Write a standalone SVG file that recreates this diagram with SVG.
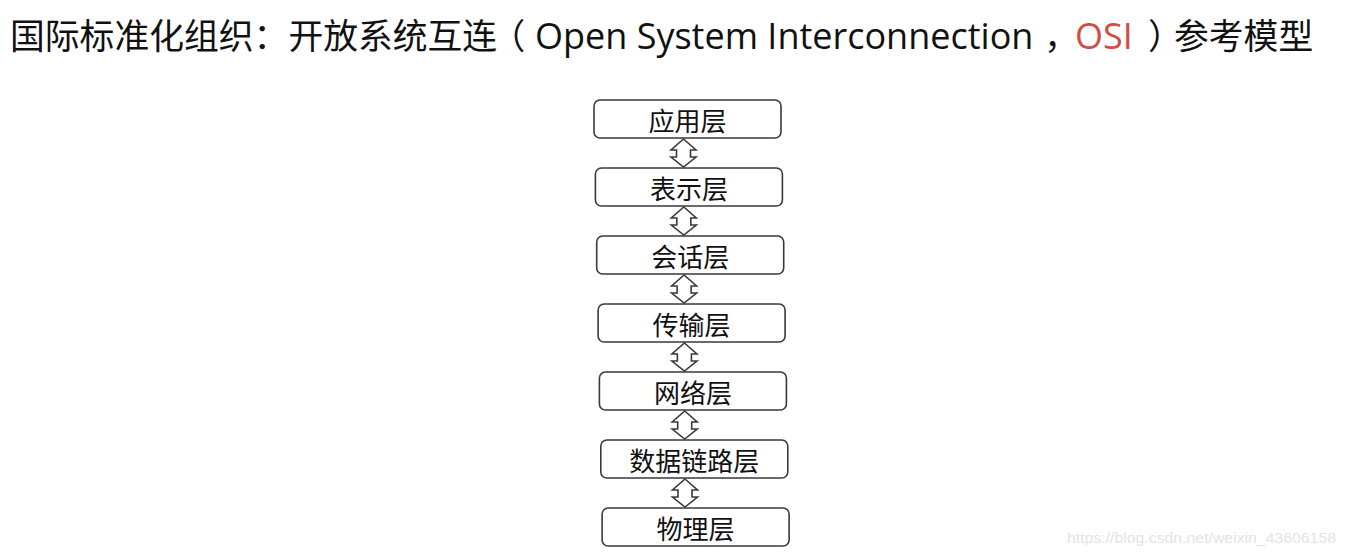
<svg xmlns="http://www.w3.org/2000/svg" width="1346" height="556" viewBox="0 0 1346 556">
<style>
.title{font-family:"Noto Sans CJK SC","Noto Sans",sans-serif;font-size:34.8px;fill:#111;}
.latin{font-family:"Open Sans","Noto Sans",sans-serif;font-size:36px;}
.p{font-feature-settings:"halt";}
.osi{fill:#cf4f45;}
.box{fill:#fff;stroke:#3a3a3a;stroke-width:1.6;}
.lbl{font-family:"Noto Sans CJK SC","Noto Sans",sans-serif;font-size:26px;fill:#111;text-anchor:middle;}
.arr{fill:#fff;stroke:#3a3a3a;stroke-width:1.6;stroke-linejoin:miter;}
.wm{font-family:"Liberation Sans",Arial,sans-serif;font-size:15px;fill:#e4e4e4;}
</style>
<rect width="1346" height="556" fill="#fff"/>
<g id="title">
<text class="title" y="49"><tspan x="10">国际标准化组织：开放系统互连</tspan><tspan class="p" x="508">（</tspan><tspan class="latin" x="535">Open System Interconnection</tspan><tspan class="p" x="1044">，</tspan><tspan class="latin osi" x="1075">OSI</tspan><tspan class="p" x="1148">）</tspan><tspan x="1174">参考模型</tspan></text>
</g>
<g id="connectors">
<path class="arr" d="M683.5,139 L696,150 L690.5,150 L690.5,157 L696,157 L683.5,167 L671,157 L676.5,157 L676.5,150 L671,150 Z"/>
<path class="arr" d="M683.8,207 L696.3,218 L690.8,218 L690.8,225 L696.3,225 L683.8,235 L671.3,225 L676.8,225 L676.8,218 L671.3,218 Z"/>
<path class="arr" d="M684.1,275 L696.6,286 L691.1,286 L691.1,293 L696.6,293 L684.1,303 L671.6,293 L677.1,293 L677.1,286 L671.6,286 Z"/>
<path class="arr" d="M684.4,343 L696.9,354 L691.4,354 L691.4,361 L696.9,361 L684.4,371 L671.9,361 L677.4,361 L677.4,354 L671.9,354 Z"/>
<path class="arr" d="M684.7,411 L697.2,422 L691.7,422 L691.7,429 L697.2,429 L684.7,439 L672.2,429 L677.7,429 L677.7,422 L672.2,422 Z"/>
<path class="arr" d="M685,479 L697.5,490 L692,490 L692,497 L697.5,497 L685,507 L672.5,497 L678,497 L678,490 L672.5,490 Z"/>
</g>
<g id="n1"><rect class="box" x="594" y="100" width="187" height="38" rx="6"/><text class="lbl" x="687.5" y="131">应用层</text></g>
<g id="n2"><rect class="box" x="595.4" y="168" width="187" height="38" rx="6"/><text class="lbl" x="688.9" y="199">表示层</text></g>
<g id="n3"><rect class="box" x="596.7" y="236" width="187" height="38" rx="6"/><text class="lbl" x="690.2" y="267">会话层</text></g>
<g id="n4"><rect class="box" x="598.1" y="304" width="187" height="38" rx="6"/><text class="lbl" x="691.6" y="335">传输层</text></g>
<g id="n5"><rect class="box" x="599.4" y="372" width="187" height="38" rx="6"/><text class="lbl" x="692.9" y="403">网络层</text></g>
<g id="n6"><rect class="box" x="600.8" y="440" width="187" height="38" rx="6"/><text class="lbl" x="694.3" y="471">数据链路层</text></g>
<g id="n7"><rect class="box" x="602.1" y="508" width="187" height="38" rx="6"/><text class="lbl" x="695.6" y="539">物理层</text></g>
<text class="wm" x="1067" y="543" textLength="269" lengthAdjust="spacingAndGlyphs">https://blog.csdn.net/weixin_43606158</text>
</svg>
